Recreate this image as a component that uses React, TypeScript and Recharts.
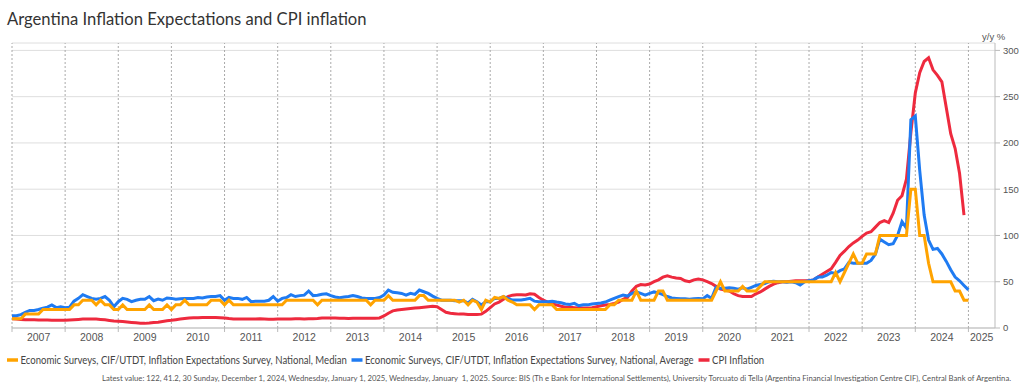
import { LineChart, Line, XAxis, YAxis, CartesianGrid, ReferenceLine } from 'recharts';

// monthly series, Jan 2007 onwards
const YEARS = [2007, 2008, 2009, 2010, 2011, 2012, 2013, 2014, 2015, 2016, 2017, 2018, 2019, 2020, 2021, 2022, 2023, 2024, 2025];

const MEDIAN = [
  10, 10, 10, 15, 15, 15, 15, 20, 20, 20, 20, 20,
  20, 20, 25, 25, 30, 30, 30, 25, 30, 25, 25, 20,
  20, 25, 20, 20, 20, 20, 20, 25, 20, 20, 20, 25,
  20, 25, 25, 30, 25, 25, 25, 25, 25, 30, 30, 30,
  25, 30, 25, 25, 25, 25, 25, 25, 25, 25, 25, 25,
  25, 25, 30, 30, 30, 30, 30, 30, 30, 25, 30, 30,
  30, 30, 30, 30, 30, 30, 30, 30, 30, 25, 30, 30,
  30, 35, 30, 30, 30, 30, 30, 30, 35, 35, 30, 30,
  30, 30, 30, 30, 30, 28, 30, 25, 30, 28, 20, 30,
  28, 33, 32, 34, 30, 28, 25, 25, 25, 25, 20, 25,
  25, 25, 25, 20, 20, 20, 20, 20, 20, 20, 20, 20,
  20, 20, 20, 25, 25, 30, 30, 30, 30, 40, 30, 30,
  30, 30, 40, 40, 30, 30, 30, 30, 30, 30, 30, 30,
  30, 30, 30, 40, 50, 40, 40, 40, 40, 45, 40, 40,
  40, 45, 50, 50, 50, 50, 50, 50, 50, 50, 50, 50,
  50, 50, 50, 50, 50, 50, 60, 50, 60, 70, 80, 70,
  70, 80, 80, 80, 100, 100, 100, 100, 100, 100, 100, 150,
  150, 100, 100, 70, 50, 50, 50, 50, 50, 40, 40, 30,
  30,
];

const AVERAGE = [
  13.3, 13.3, 14.5, 17, 19, 19, 20, 21.5, 22.5, 25, 22, 23,
  22, 22.5, 29, 32, 36, 34, 32, 31, 32, 34, 30, 23,
  28.4, 32, 31, 28.5, 30, 31, 31, 34, 29.5, 31.3, 30, 32.4,
  32, 31, 31.5, 32, 32, 32, 33, 32.5, 33.5, 34, 34, 35,
  30, 33, 32, 32, 31, 33, 28.5, 29, 29, 29, 30, 34,
  29, 32, 33, 36, 34, 35, 35.5, 40, 35, 35.5, 36.5, 37,
  35, 33.5, 32.7, 33.5, 34, 35, 34, 32.5, 32, 32, 32, 33,
  35.6, 41, 38.6, 38, 37.4, 35.6, 37.4, 36.3, 41, 39.2, 37.4, 34.5,
  32, 30, 30, 30, 29.5, 29.5, 29.5, 27, 31, 28.4, 25, 28.4,
  28.4, 32, 32, 33.8, 32, 30.2, 30.2, 30.2, 31, 32, 29, 28.4,
  28.4, 28.4, 29, 28, 27.3, 26, 25.5, 26.6, 24, 25, 25, 26,
  26.6, 27, 28, 30, 32, 34, 35.6, 34.5, 37.4, 39, 37.4, 35.6,
  37.4, 39, 38, 36, 34, 32.5, 32, 31.5, 31.5, 31, 31.5, 32,
  31.5, 35, 32, 44, 43, 43, 43.5, 43, 42, 43.5, 42, 44,
  46, 47, 48, 50, 50.5, 50, 50, 49.5, 50, 49, 46.5, 50,
  51, 52, 55, 55, 57, 60, 59, 62, 64, 71, 70, 70,
  70, 70, 73, 80, 96, 93, 90, 91, 100, 115, 108, 225,
  229, 170, 122, 95, 85, 86, 80, 72, 63, 55, 51, 46,
  41.2,
];

const CPI = [
  10, 9.7, 9.3, 9.0, 8.9, 8.8, 8.7, 8.6, 8.6, 8.5, 8.5, 8.5,
  8.5, 8.7, 9.0, 9.3, 9.6, 9.7, 9.7, 9.6, 9.3, 8.8, 8.2, 7.6,
  7.3, 6.9, 6.5, 6.0, 5.6, 5.2, 5.0, 5.3, 5.9, 6.3, 7.1, 7.8,
  8.3, 9.0, 9.7, 10.3, 10.8, 11.0, 11.2, 11.3, 11.4, 11.4, 11.3, 11.2,
  10.8, 10.2, 9.8, 9.7, 9.7, 9.7, 9.8, 9.8, 9.9, 9.7, 9.5, 9.5,
  9.7, 9.7, 9.8, 9.8, 9.9, 9.9, 9.8, 9.9, 10.0, 10.2, 10.8, 10.8,
  10.8, 10.8, 10.6, 10.5, 10.3, 10.5, 10.6, 10.5, 10.5, 10.5, 10.5, 10.9,
  13, 16, 18.5, 19.5, 20, 20.5, 21, 21.5, 22, 22.5, 23, 23.5,
  23, 20, 17, 16, 15.5, 15, 15, 14.7, 14.5, 14.5, 15, 18,
  22, 26, 28, 31, 34, 35.5, 36, 36, 35.6, 37, 36.5, 33,
  30, 28, 26, 24.8, 23.5, 22.5, 22.3, 22, 21.5, 21.5, 21.5, 22,
  23, 24, 24.8, 25.5, 26.5, 28, 31, 33, 40, 45, 47, 46.5,
  47.5, 50, 52, 55, 56.5, 55, 54, 53.5, 51, 50, 52, 53,
  52, 50, 48, 45, 42, 41, 40, 37, 35, 34, 34, 34,
  37, 39, 42, 45, 47.5, 49, 50, 50, 50.5, 51, 51, 51,
  51, 52, 55, 58, 61, 64, 71, 78.5, 83, 88, 92, 95,
  99, 102.5, 104, 109, 114, 116, 114, 124, 138, 143, 161, 211,
  254, 276, 288, 292, 279, 273, 266, 238, 210, 194, 167, 122,
];

const Y_TICKS = [0, 50, 100, 150, 200, 250, 300];

const TITLE = 'Argentina Inflation Expectations and CPI inflation';
const FOOTNOTE =
  'Latest value: 122, 41.2, 30 Sunday, December 1, 2024, Wednesday, January 1, 2025, Wednesday, January  1, 2025. Source: BIS (Th e Bank for International Settlements), University Torcuato di Tella (Argentina Financial Investigation Centre CIF), Central Bank of Argentina.';

const COLORS = {
  median: '#ffa300',
  average: '#1f7bf2',
  cpi: '#ee2a3e',
};

const LEGEND = [
  { key: 'median', label: 'Economic Surveys, CIF/UTDT, Inflation Expectations Survey, National, Median' },
  { key: 'average', label: 'Economic Surveys, CIF/UTDT, Inflation Expectations Survey, National, Average' },
  { key: 'cpi', label: 'CPI Inflation' },
];

const W = 1024;
const H = 391;
const PLOT_LEFT = 12;
const PLOT_W = 983;
const XMAX = 222; // axis runs to mid 2025
const PX_PER_MONTH = PLOT_W / XMAX;
const BOUNDARIES = YEARS.map((_, i) => i * 12);
const TEXT_FONT = 'Lato';

const data = MEDIAN.map((v, i) => ({
  t: i,
  median: v,
  average: AVERAGE[i],
  cpi: i < CPI.length ? CPI[i] : null,
}));

let ctx: CanvasRenderingContext2D | null = null;
function measure(text: string, size: number) {
  if (!ctx) ctx = document.createElement('canvas').getContext('2d');
  if (!ctx) return text.length * size * 0.5;
  ctx.font = `${size}px ${TEXT_FONT}`;
  return ctx.measureText(text).width;
}

// text squeezed horizontally so it spans `width` px
function FitText({ x, y, size, width, fill, children }: any) {
  const sx = width / measure(children, size);
  return (
    <text
      transform={`translate(${x},${y}) scale(${sx},1)`}
      fontSize={size}
      fontFamily={TEXT_FONT}
      fill={fill}
      style={{ whiteSpace: 'pre' }}
    >
      {children}
    </text>
  );
}

function YearTick(props: any) {
  const { x, y, payload } = props;
  const m = payload.value as number;
  const span = Math.min(m + 12, XMAX) - m;
  return (
    <text
      x={x + (span / 2) * PX_PER_MONTH}
      y={y}
      dy="0.71em"
      textAnchor="middle"
      fill="#555"
      fontSize={10.5}
      fontFamily="Liberation Sans, Arial, sans-serif"
    >
      {YEARS[m / 12]}
    </text>
  );
}

function Legend() {
  const size = 11;
  const scale = 327 / measure(LEGEND[0].label, size);
  let x = 7;
  return (
    <g>
      {LEGEND.map((item) => {
        const w = measure(item.label, size) * scale;
        const x0 = x;
        x += 11 + 2.5 + w + 4;
        return (
          <g key={item.key}>
            <line x1={x0} x2={x0 + 11} y1={360} y2={360} stroke={COLORS[item.key as keyof typeof COLORS]} strokeWidth={3.5} />
            <FitText x={x0 + 13.5} y={363.5} size={size} width={w} fill="#444">
              {item.label}
            </FitText>
          </g>
        );
      })}
    </g>
  );
}

export default function App() {
  return (
    <div
      style={{
        position: 'absolute',
        left: 0,
        top: 0,
        width: W,
        height: H,
        background: '#fff',
        fontFamily: 'Liberation Sans, Arial, sans-serif',
      }}
    >
      <LineChart
        width={W}
        height={H}
        data={data}
        margin={{ top: 43, right: 0, left: PLOT_LEFT, bottom: 43 }}
      >
        <CartesianGrid vertical={false} stroke="#dedede" />
        {BOUNDARIES.map((m) => (
          <ReferenceLine key={m} x={m} stroke="#aaa" strokeDasharray="2 2" />
        ))}
        <XAxis
          dataKey="t"
          type="number"
          domain={[0, XMAX]}
          ticks={BOUNDARIES}
          interval={0}
          height={20}
          tickSize={4}
          tickMargin={2}
          stroke="#bbb"
          tick={<YearTick />}
          allowDataOverflow
        />
        <YAxis
          orientation="right"
          domain={[0, 308]}
          ticks={Y_TICKS}
          width={29}
          tickSize={5}
          tickMargin={3}
          stroke="#bbb"
          tick={{ fill: '#555', fontSize: 9.5 }}
          allowDataOverflow
        />
        <Line type="linear" dataKey="cpi" stroke={COLORS.cpi} strokeWidth={3} dot={false} isAnimationActive={false} />
        <Line type="linear" dataKey="average" stroke={COLORS.average} strokeWidth={3} dot={false} isAnimationActive={false} />
        <Line type="linear" dataKey="median" stroke={COLORS.median} strokeWidth={3} dot={false} isAnimationActive={false} />
      </LineChart>

      <svg width={W} height={H} style={{ position: 'absolute', left: 0, top: 0, pointerEvents: 'none' }}>
        <FitText x={7} y={25} size={17.5} width={360} fill="#333">
          {TITLE}
        </FitText>
        <text x={982} y={39.5} fontSize={9.5} fill="#555">
          y/y %
        </text>
        <Legend />
        <FitText x={102} y={381} size={7.5} width={912} fill="#555">
          {FOOTNOTE}
        </FitText>
      </svg>
    </div>
  );
}
